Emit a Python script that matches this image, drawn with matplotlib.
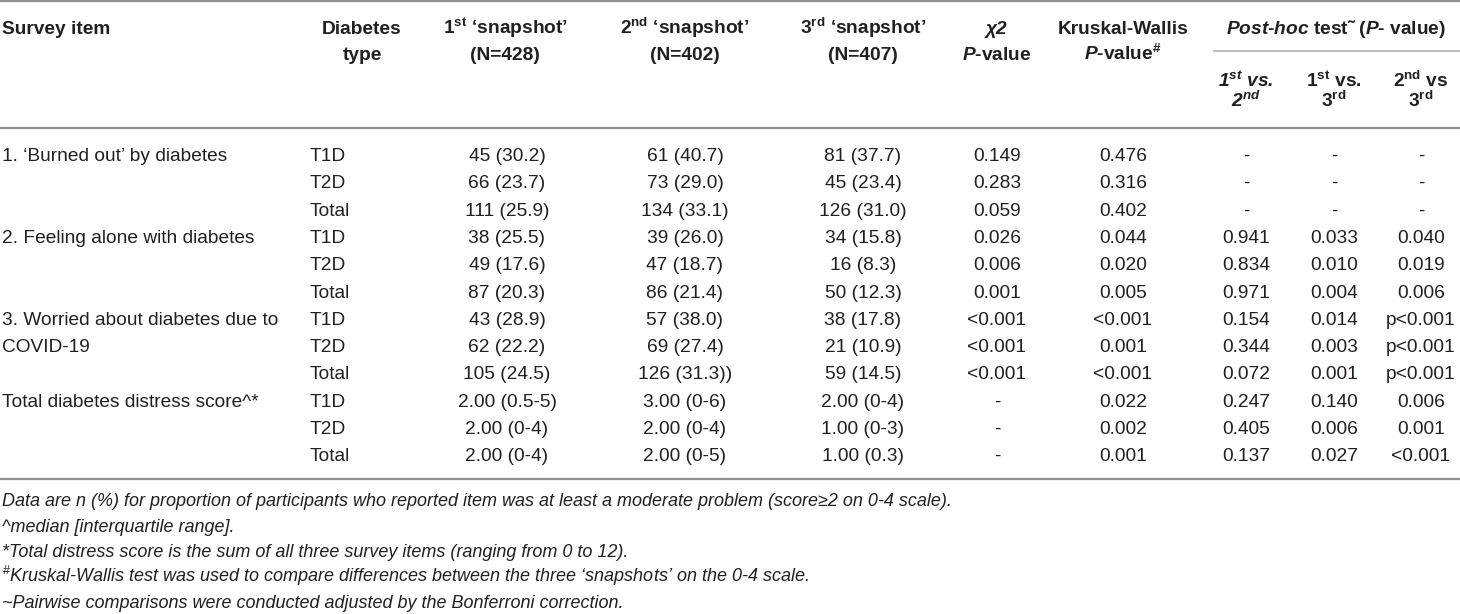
import matplotlib
matplotlib.use("Agg")
import matplotlib.pyplot as plt

plt.rcParams['font.family'] = ['Liberation Sans', 'DejaVu Sans']
plt.rcParams['mathtext.fontset'] = 'custom'
plt.rcParams['mathtext.rm'] = 'Liberation Sans'
plt.rcParams['mathtext.bf'] = 'Liberation Sans:bold'
plt.rcParams['mathtext.it'] = 'Liberation Sans:italic:bold'

LQ, RQ = "\u2018", "\u2019"

# ---------------- data ----------------
survey_items = ["1. " + LQ + "Burned out" + RQ + " by diabetes", "", "",
                "2. Feeling alone with diabetes", "", "",
                "3. Worried about diabetes due to", "COVID-19", "",
                "Total diabetes distress score^*", "", ""]
diabetes_type = ["T1D", "T2D", "Total"] * 4
snapshot1 = ["45 (30.2)", "66 (23.7)", "111 (25.9)", "38 (25.5)", "49 (17.6)", "87 (20.3)",
             "43 (28.9)", "62 (22.2)", "105 (24.5)", "2.00 (0.5-5)", "2.00 (0-4)", "2.00 (0-4)"]
snapshot2 = ["61 (40.7)", "73 (29.0)", "134 (33.1)", "39 (26.0)", "47 (18.7)", "86 (21.4)",
             "57 (38.0)", "69 (27.4)", "126 (31.3))", "3.00 (0-6)", "2.00 (0-4)", "2.00 (0-5)"]
snapshot3 = ["81 (37.7)", "45 (23.4)", "126 (31.0)", "34 (15.8)", "16 (8.3)", "50 (12.3)",
             "38 (17.8)", "21 (10.9)", "59 (14.5)", "2.00 (0-4)", "1.00 (0-3)", "1.00 (0.3)"]
chi2_p = ["0.149", "0.283", "0.059", "0.026", "0.006", "0.001",
          "<0.001", "<0.001", "<0.001", "-", "-", "-"]
kw_p = ["0.476", "0.316", "0.402", "0.044", "0.020", "0.005",
        "<0.001", "0.001", "<0.001", "0.022", "0.002", "0.001"]
posthoc_1v2 = ["-", "-", "-", "0.941", "0.834", "0.971",
               "0.154", "0.344", "0.072", "0.247", "0.405", "0.137"]
posthoc_1v3 = ["-", "-", "-", "0.033", "0.010", "0.004",
               "0.014", "0.003", "0.001", "0.140", "0.006", "0.027"]
posthoc_2v3 = ["-", "-", "-", "0.040", "0.019", "0.006",
               "p<0.001", "p<0.001", "p<0.001", "0.006", "0.001", "<0.001"]

header_line1 = ["Survey item", "Diabetes",
                r"1$^{\mathbf{st}}$ " + LQ + "snapshot" + RQ,
                r"2$^{\mathbf{nd}}$ " + LQ + "snapshot" + RQ,
                r"3$^{\mathbf{rd}}$ " + LQ + "snapshot" + RQ,
                "\u03c72", "Kruskal-Wallis"]
header_line2 = ["", "type", "(N=428)", "(N=402)", "(N=407)", r"$P$-value", r"$P$-value$^{\mathbf{\#}}$"]
posthoc_title = r"$Post$-$hoc$ test" + "\u02dc" + r" ($P$- value)"
posthoc_sub1 = [r"1$^{st}$ vs.", r"1$^{\mathbf{st}}$ vs.", r"2$^{\mathbf{nd}}$ vs"]
posthoc_sub2 = [r"2$^{nd}$", r"3$^{\mathbf{rd}}$", r"3$^{\mathbf{rd}}$"]
posthoc_sub_italic = [True, False, False]

footnotes = [
    "Data are n (%) for proportion of participants who reported item was at least a moderate problem (score\u22652 on 0-4 scale).",
    "^median [interquartile range].",
    "*Total distress score is the sum of all three survey items (ranging from 0 to 12).",
    r"$^{\mathrm{\#}}$Kruskal-Wallis test was used to compare differences between the three "
    + LQ + "snapshots" + RQ + " on the 0-4 scale.",
    "~Pairwise comparisons were conducted adjusted by the Bonferroni correction.",
]

# ---------------- layout ----------------
W, H = 1460, 614
fig = plt.figure(figsize=(W / 100, H / 100), dpi=100)
ax = fig.add_axes([0, 0, 1, 1])
ax.set_xlim(0, W)
ax.set_ylim(H, 0)
ax.axis('off')

FS = 13.8
FS_FOOT = 13.0
TXT = '#231f20'
LINE = '#8f8f8f'

col_x = [2, 362, 505, 685, 863, 997, 1123]
value_cols = [snapshot1, snapshot2, snapshot3, chi2_p, kw_p, posthoc_1v2, posthoc_1v3, posthoc_2v3]
value_x = [507, 685, 863, 997, 1123, 1246, 1334, 1421]

# rules
ax.plot([0, W], [1.2, 1.2], color=LINE, lw=1.6, solid_capstyle='butt')
ax.plot([1213, W], [51, 51], color='#a8a8a8', lw=1.1, solid_capstyle='butt')
ax.plot([0, W], [127.5, 127.5], color=LINE, lw=1.6, solid_capstyle='butt')
ax.plot([0, W], [479, 479], color=LINE, lw=1.6, solid_capstyle='butt')

# header
for i, (t1, t2) in enumerate(zip(header_line1, header_line2)):
    ha = 'left' if i == 0 else 'center'
    style = 'italic' if i == 5 else 'normal'
    ax.text(col_x[i], 34, t1, ha=ha, va='baseline', fontsize=FS, fontweight='bold',
            fontstyle=style, color=TXT)
    if t2:
        ax.text(col_x[i], 60, t2, ha=ha, va='baseline', fontsize=FS, fontweight='bold', color=TXT)

ax.text(1336, 34, posthoc_title, ha='center', va='baseline', fontsize=FS, fontweight='bold', color=TXT)
for x, s1, s2, it in zip(value_x[5:], posthoc_sub1, posthoc_sub2, posthoc_sub_italic):
    st = 'italic' if it else 'normal'
    ax.text(x, 87, s1, ha='center', va='baseline', fontsize=FS, fontweight='bold', fontstyle=st, color=TXT)
    ax.text(x, 107, s2, ha='center', va='baseline', fontsize=FS, fontweight='bold', fontstyle=st, color=TXT)

# body
row0, dy = 161, 27.3
for r in range(len(diabetes_type)):
    y = row0 + r * dy
    if survey_items[r]:
        ax.text(2, y, survey_items[r], ha='left', va='baseline', fontsize=FS, color=TXT)
    ax.text(310, y, diabetes_type[r], ha='left', va='baseline', fontsize=FS, color=TXT)
    for x, col in zip(value_x, value_cols):
        ax.text(x, y, col[r], ha='center', va='baseline', fontsize=FS, color=TXT)

# footnotes
for k, fn in enumerate(footnotes):
    ax.text(2, 506 + k * 25.5, fn, ha='left', va='baseline', fontsize=FS_FOOT,
            fontstyle='italic', color=TXT)

fig.savefig("out.png", dpi=100)
